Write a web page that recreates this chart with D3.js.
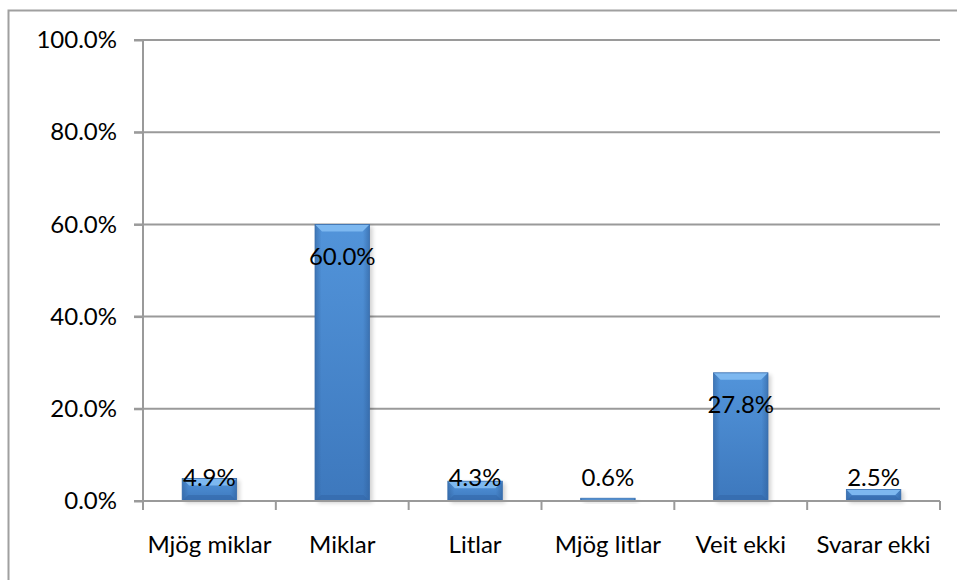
<!DOCTYPE html>
<html><head><meta charset="utf-8">
<script src="https://cdn.jsdelivr.net/npm/d3@7"></script>
<style>body{margin:0;background:#fff}svg{display:block}</style>
</head><body><svg id="c" width="957" height="580"></svg>
<script>
const categories = ["Mjög miklar","Miklar","Litlar","Mjög litlar","Veit ekki","Svarar ekki"];
const values = [4.9, 60.0, 4.3, 0.6, 27.8, 2.5];
const yTicks = [0, 20, 40, 60, 80, 100];

const svg = d3.select("#c");
const W = 957, H = 580;
const m = {left:143, right:17, top:40, bottom:79};
const font = "Lato, 'Open Sans', sans-serif";
const fs = 24;

svg.append("rect").attr("x",8.5).attr("y",10.5).attr("width",W).attr("height",H)
  .attr("fill","#fff").attr("stroke","#a0a0a0").attr("stroke-width",2);

const x = d3.scaleBand().domain(categories).range([m.left, W-m.right]).paddingInner(0).paddingOuter(0);
const y = d3.scaleLinear().domain([0,100]).range([H-m.bottom, m.top]);

const defs = svg.append("defs");
const g1 = defs.append("linearGradient").attr("id","bodyGrad").attr("x1","0").attr("x2","0").attr("y1","0").attr("y2","1");
[[0,"#5294da"],[1,"#3d78bd"]].forEach(([o,c])=>g1.append("stop").attr("offset",o).attr("stop-color",c));
const g2 = defs.append("linearGradient").attr("id","sideGrad").attr("x1","0").attr("x2","1").attr("y1","0").attr("y2","0");
[[0,"#2f5f9a",0.55],[0.12,"#2f5f9a",0],[0.88,"#2f5f9a",0],[1,"#2f5f9a",0.55]].forEach(([o,c,a])=>g2.append("stop").attr("offset",o).attr("stop-color",c).attr("stop-opacity",a));
const f = defs.append("filter").attr("id","sh").attr("x","-20%").attr("y","-20%").attr("width","150%").attr("height","150%");
f.append("feGaussianBlur").attr("stdDeviation",2);

// gridlines
svg.append("g").selectAll("line").data(yTicks.filter(d=>d>0)).join("line")
  .attr("x1",m.left-9).attr("x2",W-m.right).attr("y1",d=>y(d)).attr("y2",d=>y(d))
  .attr("stroke","#9a9a9a").attr("stroke-width",2);

// y axis
const yAxis = d3.axisLeft(y).tickValues(yTicks).tickSize(9).tickPadding(17).tickFormat(d=>d3.format(".1f")(d)+"%");
const ya = svg.append("g").attr("transform",`translate(${m.left},0)`).call(yAxis);
ya.select(".domain").attr("stroke","#9a9a9a").attr("stroke-width",2).attr("d",`M-9,${y(100)}H0V${y(0)}`);
ya.selectAll(".tick line").attr("stroke","#9a9a9a").attr("stroke-width",2);
ya.selectAll("text").attr("font-family",font).attr("font-size",fs).attr("fill","#000");

// bars
const bw = x.bandwidth()*0.41;
const bx0 = d=>x(d.c)+x.bandwidth()/2-bw/2;
const data = categories.map((c,i)=>({c,v:values[i]}));
const bars = svg.append("g").selectAll("g").data(data).join("g");
bars.append("rect").attr("x",d=>bx0(d)+3).attr("width",bw)
  .attr("y",d=>y(d.v)+2).attr("height",d=>y(0)-y(d.v)).attr("fill","#000").attr("opacity",0.18).attr("filter","url(#sh)");
bars.append("rect").attr("x",bx0).attr("width",bw)
  .attr("y",d=>y(d.v)).attr("height",d=>y(0)-y(d.v)).attr("fill","url(#bodyGrad)");
bars.append("rect").attr("x",bx0).attr("width",bw)
  .attr("y",d=>y(d.v)).attr("height",d=>y(0)-y(d.v)).attr("fill","url(#sideGrad)");
// top bevel
bars.append("path").attr("d",d=>{
  const x0=bx0(d), x1=x0+bw, t=y(d.v), h=Math.min(7,(y(0)-y(d.v))/2);
  return `M${x0},${t}L${x1},${t}L${x1-h},${t+h}L${x0+h},${t+h}Z`;
}).attr("fill","#7db8f0");
// bottom bevel
bars.append("path").attr("d",d=>{
  const x0=bx0(d), x1=x0+bw, b=y(0), h=Math.min(6,(b-y(d.v))/2);
  return `M${x0},${b}L${x1},${b}L${x1-h},${b-h}L${x0+h},${b-h}Z`;
}).attr("fill","#3468a8").attr("opacity",0.6);
bars.append("rect").attr("x",bx0).attr("width",bw)
  .attr("y",d=>y(d.v)).attr("height",d=>y(0)-y(d.v)).attr("fill","none")
  .attr("stroke","#3a6ead").attr("stroke-width",0.8);

// x axis
const xa = svg.append("g").attr("transform",`translate(0,${y(0)})`);
xa.append("line").attr("x1",m.left-9).attr("x2",W-m.right).attr("y1",0).attr("y2",0).attr("stroke","#9a9a9a").attr("stroke-width",2);
const edges = categories.map(c=>x(c)).concat([x(categories[categories.length-1])+x.bandwidth()]);
xa.selectAll("line.t").data(edges).join("line").attr("class","t")
  .attr("x1",d=>d).attr("x2",d=>d).attr("y1",0).attr("y2",9).attr("stroke","#9a9a9a").attr("stroke-width",2);
xa.selectAll("text").data(categories).join("text")
  .attr("x",d=>x(d)+x.bandwidth()/2).attr("y",52).attr("text-anchor","middle")
  .attr("font-family",font).attr("font-size",fs).attr("fill","#000").text(d=>d);

// labels
bars.append("text").attr("x",d=>x(d.c)+x.bandwidth()/2)
  .attr("y",d=>Math.min(y(d.v)+32, y(0)-23)).attr("dy","0.35em").attr("text-anchor","middle")
  .attr("font-family",font).attr("font-size",fs).attr("fill","#000").text(d=>d3.format(".1f")(d.v)+"%");
</script></body></html>
